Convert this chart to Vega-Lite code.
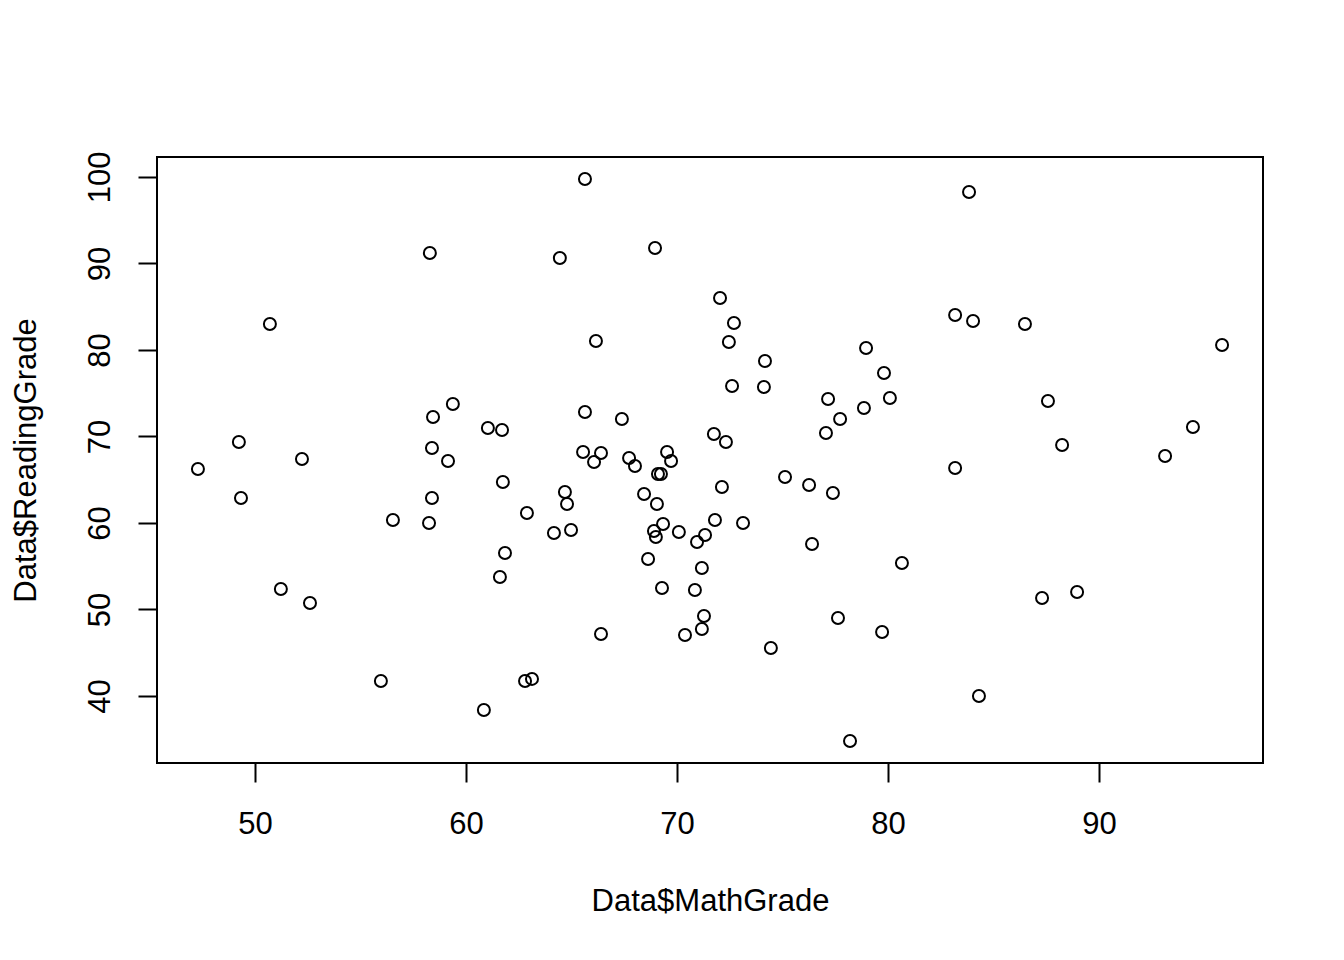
{
  "$schema": "https://vega.github.io/schema/vega-lite/v6.json",
  "width": 1106,
  "height": 606,
  "autosize": {"type": "none"},
  "padding": {"left": 157, "top": 157, "right": 81, "bottom": 197},
  "background": "white",
  "config": {
    "font": "Liberation Sans",
    "view": {"stroke": "black", "strokeWidth": 2},
    "axis": {
      "grid": false,
      "domain": false,
      "tickColor": "black",
      "tickWidth": 2,
      "tickSize": 19,
      "labelColor": "black",
      "labelFontSize": 31,
      "labelFont": "Liberation Sans",
      "titleColor": "black",
      "titleFontSize": 31,
      "titleFont": "Liberation Sans",
      "titleFontWeight": "normal",
      "labelPadding": 27
    }
  },
  "data": {
    "values": [
      {"MathGrade": 47.30, "ReadingGrade": 66.24},
      {"MathGrade": 49.24, "ReadingGrade": 69.36},
      {"MathGrade": 49.34, "ReadingGrade": 62.89},
      {"MathGrade": 50.71, "ReadingGrade": 83.01},
      {"MathGrade": 51.23, "ReadingGrade": 52.37},
      {"MathGrade": 52.23, "ReadingGrade": 67.40},
      {"MathGrade": 52.61, "ReadingGrade": 50.75},
      {"MathGrade": 55.97, "ReadingGrade": 41.73},
      {"MathGrade": 56.54, "ReadingGrade": 60.35},
      {"MathGrade": 58.29, "ReadingGrade": 91.21},
      {"MathGrade": 58.25, "ReadingGrade": 60.00},
      {"MathGrade": 58.44, "ReadingGrade": 72.25},
      {"MathGrade": 58.39, "ReadingGrade": 68.67},
      {"MathGrade": 58.39, "ReadingGrade": 62.89},
      {"MathGrade": 59.15, "ReadingGrade": 67.17},
      {"MathGrade": 59.38, "ReadingGrade": 73.76},
      {"MathGrade": 60.85, "ReadingGrade": 38.38},
      {"MathGrade": 61.04, "ReadingGrade": 70.98},
      {"MathGrade": 61.71, "ReadingGrade": 70.75},
      {"MathGrade": 61.75, "ReadingGrade": 64.74},
      {"MathGrade": 61.85, "ReadingGrade": 56.53},
      {"MathGrade": 61.61, "ReadingGrade": 53.76},
      {"MathGrade": 62.80, "ReadingGrade": 41.73},
      {"MathGrade": 63.13, "ReadingGrade": 41.97},
      {"MathGrade": 62.89, "ReadingGrade": 61.16},
      {"MathGrade": 64.17, "ReadingGrade": 58.84},
      {"MathGrade": 64.45, "ReadingGrade": 90.64},
      {"MathGrade": 64.69, "ReadingGrade": 63.58},
      {"MathGrade": 64.79, "ReadingGrade": 62.20},
      {"MathGrade": 64.98, "ReadingGrade": 59.19},
      {"MathGrade": 65.64, "ReadingGrade": 99.77},
      {"MathGrade": 65.64, "ReadingGrade": 72.83},
      {"MathGrade": 65.55, "ReadingGrade": 68.21},
      {"MathGrade": 66.16, "ReadingGrade": 81.04},
      {"MathGrade": 66.07, "ReadingGrade": 67.05},
      {"MathGrade": 66.40, "ReadingGrade": 68.09},
      {"MathGrade": 66.40, "ReadingGrade": 47.17},
      {"MathGrade": 67.39, "ReadingGrade": 72.02},
      {"MathGrade": 67.73, "ReadingGrade": 67.51},
      {"MathGrade": 68.01, "ReadingGrade": 66.59},
      {"MathGrade": 68.44, "ReadingGrade": 63.35},
      {"MathGrade": 68.63, "ReadingGrade": 55.84},
      {"MathGrade": 68.96, "ReadingGrade": 91.79},
      {"MathGrade": 68.91, "ReadingGrade": 59.08},
      {"MathGrade": 69.00, "ReadingGrade": 58.38},
      {"MathGrade": 69.05, "ReadingGrade": 62.20},
      {"MathGrade": 69.10, "ReadingGrade": 65.66},
      {"MathGrade": 69.24, "ReadingGrade": 65.66},
      {"MathGrade": 69.34, "ReadingGrade": 59.88},
      {"MathGrade": 69.29, "ReadingGrade": 52.49},
      {"MathGrade": 69.53, "ReadingGrade": 68.21},
      {"MathGrade": 69.72, "ReadingGrade": 67.17},
      {"MathGrade": 70.09, "ReadingGrade": 58.96},
      {"MathGrade": 70.38, "ReadingGrade": 47.05},
      {"MathGrade": 70.85, "ReadingGrade": 52.25},
      {"MathGrade": 70.95, "ReadingGrade": 57.80},
      {"MathGrade": 71.18, "ReadingGrade": 54.80},
      {"MathGrade": 71.33, "ReadingGrade": 58.61},
      {"MathGrade": 71.28, "ReadingGrade": 49.25},
      {"MathGrade": 71.18, "ReadingGrade": 47.75},
      {"MathGrade": 71.75, "ReadingGrade": 70.29},
      {"MathGrade": 71.80, "ReadingGrade": 60.35},
      {"MathGrade": 72.04, "ReadingGrade": 86.01},
      {"MathGrade": 72.13, "ReadingGrade": 64.16},
      {"MathGrade": 72.32, "ReadingGrade": 69.36},
      {"MathGrade": 72.46, "ReadingGrade": 80.92},
      {"MathGrade": 72.70, "ReadingGrade": 83.12},
      {"MathGrade": 72.61, "ReadingGrade": 75.84},
      {"MathGrade": 73.13, "ReadingGrade": 60.00},
      {"MathGrade": 74.17, "ReadingGrade": 78.73},
      {"MathGrade": 74.12, "ReadingGrade": 75.72},
      {"MathGrade": 74.45, "ReadingGrade": 45.55},
      {"MathGrade": 75.12, "ReadingGrade": 65.32},
      {"MathGrade": 76.26, "ReadingGrade": 64.39},
      {"MathGrade": 76.40, "ReadingGrade": 57.57},
      {"MathGrade": 77.16, "ReadingGrade": 74.34},
      {"MathGrade": 77.06, "ReadingGrade": 70.40},
      {"MathGrade": 77.39, "ReadingGrade": 63.47},
      {"MathGrade": 77.73, "ReadingGrade": 72.02},
      {"MathGrade": 77.63, "ReadingGrade": 49.02},
      {"MathGrade": 78.20, "ReadingGrade": 34.80},
      {"MathGrade": 78.86, "ReadingGrade": 73.29},
      {"MathGrade": 78.96, "ReadingGrade": 80.23},
      {"MathGrade": 79.72, "ReadingGrade": 47.40},
      {"MathGrade": 79.81, "ReadingGrade": 77.34},
      {"MathGrade": 80.09, "ReadingGrade": 74.45},
      {"MathGrade": 80.66, "ReadingGrade": 55.38},
      {"MathGrade": 83.18, "ReadingGrade": 84.05},
      {"MathGrade": 83.18, "ReadingGrade": 66.36},
      {"MathGrade": 83.84, "ReadingGrade": 98.27},
      {"MathGrade": 84.03, "ReadingGrade": 83.35},
      {"MathGrade": 84.31, "ReadingGrade": 40.00},
      {"MathGrade": 86.49, "ReadingGrade": 83.01},
      {"MathGrade": 87.30, "ReadingGrade": 51.33},
      {"MathGrade": 87.58, "ReadingGrade": 74.10},
      {"MathGrade": 88.25, "ReadingGrade": 69.02},
      {"MathGrade": 88.96, "ReadingGrade": 52.02},
      {"MathGrade": 93.13, "ReadingGrade": 67.75},
      {"MathGrade": 94.45, "ReadingGrade": 71.10},
      {"MathGrade": 95.83, "ReadingGrade": 80.58}
    ]
  },
  "mark": {"type": "point", "shape": "circle", "filled": false, "color": "black", "strokeWidth": 2, "size": 144, "opacity": 1},
  "encoding": {
    "x": {
      "field": "MathGrade",
      "type": "quantitative",
      "scale": {"domain": [45.36, 97.77], "nice": false, "zero": false},
      "axis": {"values": [50, 60, 70, 80, 90], "title": "Data$MathGrade", "titlePadding": 47}
    },
    "y": {
      "field": "ReadingGrade",
      "type": "quantitative",
      "scale": {"domain": [32.25, 102.31], "nice": false, "zero": false},
      "axis": {"values": [40, 50, 60, 70, 80, 90, 100], "title": "Data$ReadingGrade", "labelAngle": -90, "labelAlign": "center", "labelBaseline": "alphabetic", "labelPadding": 29, "titlePadding": 42}
    }
  }
}
